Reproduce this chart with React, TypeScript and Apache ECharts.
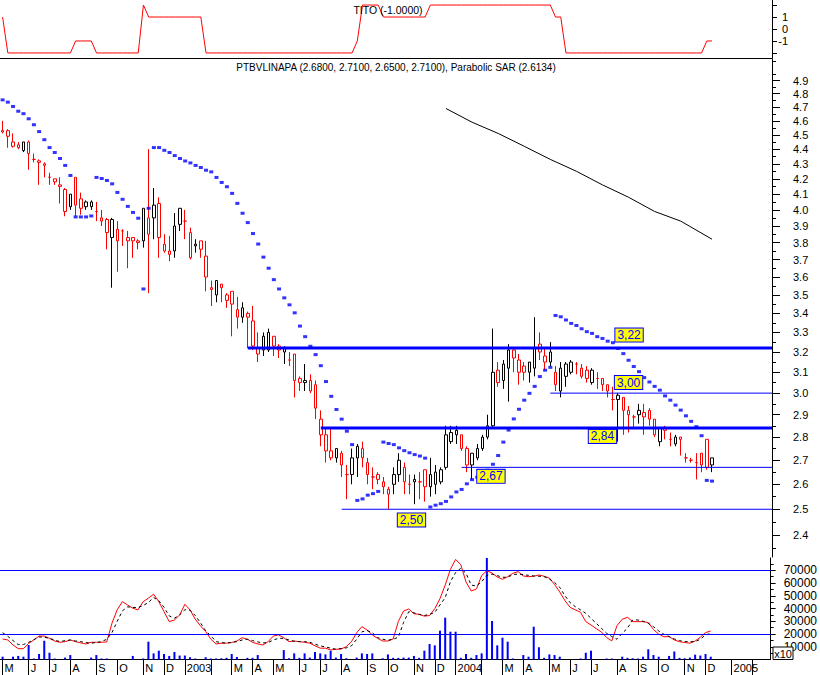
import React, { useEffect, useRef } from "react";
import * as echarts from "echarts";

// ---------------- DATA ----------------
const FIRST_WEEK = "2002-05-03";
const N_WEEKS = 148;
const HOLIDAY_SHIFT: Record<string, string> = { "2002-11-01": "2002-10-31" };

const OPEN = [4.53,4.53,4.45,4.43,4.39,4.45,4.33,4.32,4.29,4.21,
 4.18,4.15,4.13,4.02,4.21,4.07,4.05,4.02,3.99,3.93,
 3.94,3.83,3.81,3.87,3.81,3.83,3.81,3.81,3.85,3.95,
 4.04,3.75,3.75,3.75,3.91,3.93,3.86,3.78,3.81,3.72,
 3.54,3.50,3.56,3.50,3.52,3.42,3.38,3.40,3.36,3.19,
 3.21,3.21,3.23,3.23,3.20,3.16,3.19,3.07,3.05,3.06,
 3.04,2.88,2.81,2.74,2.71,2.73,2.64,2.64,2.71,2.75,
 2.69,2.63,2.64,2.61,2.56,2.60,2.64,2.67,2.60,2.61,
 2.61,2.66,2.59,2.60,2.61,2.67,2.78,2.81,2.81,2.75,
 2.68,2.71,2.75,2.80,2.85,3.11,3.06,3.12,3.21,3.10,
 3.13,3.10,3.12,3.24,3.15,3.15,3.04,3.01,3.08,3.10,
 3.14,3.08,3.11,3.05,3.07,3.07,3.04,2.97,2.97,2.98,
 2.92,2.89,2.90,2.89,2.92,2.88,2.78,2.84,2.79,2.77,
 2.80,2.71,2.70,2.69,2.73,2.79,2.68];
const HIGH = [4.60,4.54,4.51,4.45,4.45,4.46,4.37,4.33,4.31,4.24,
 4.20,4.21,4.14,4.10,4.21,4.11,4.06,4.06,4.05,4.00,
 3.95,3.95,3.93,3.88,3.87,3.83,3.82,4.01,4.40,4.14,
 4.08,3.85,3.84,3.98,4.01,4.00,3.89,3.82,3.81,3.81,
 3.58,3.58,3.56,3.51,3.52,3.49,3.46,3.41,3.44,3.30,
 3.30,3.32,3.28,3.24,3.23,3.20,3.19,3.08,3.14,3.09,
 3.06,2.92,2.84,2.84,2.75,2.74,2.68,2.75,2.77,2.78,
 2.71,2.67,2.65,2.63,2.59,2.67,2.73,2.69,2.64,2.64,
 2.65,2.66,2.71,2.68,2.67,2.85,2.85,2.85,2.81,2.76,
 2.73,2.77,2.81,2.90,3.32,3.15,3.16,3.24,3.22,3.19,
 3.15,3.15,3.38,3.30,3.22,3.25,3.13,3.15,3.15,3.16,
 3.15,3.14,3.13,3.12,3.10,3.07,3.04,3.03,3.00,2.98,
 2.94,2.90,2.95,2.95,2.93,2.88,2.84,2.85,2.82,2.81,
 2.80,2.73,2.71,2.73,2.73,2.79,2.71];
const LOW = [4.51,4.41,4.41,4.40,4.38,4.26,4.31,4.16,4.21,4.16,
 4.16,4.04,3.96,4.00,3.96,3.97,4.00,4.00,3.93,3.90,
 3.76,3.54,3.63,3.78,3.65,3.71,3.76,3.77,3.51,3.82,
 3.71,3.74,3.69,3.71,3.87,3.82,3.70,3.74,3.71,3.52,
 3.44,3.46,3.46,3.43,3.28,3.32,3.35,3.22,3.21,3.15,
 3.18,3.20,3.18,3.17,3.14,3.13,2.98,3.01,3.01,3.00,
 2.88,2.76,2.69,2.70,2.69,2.63,2.54,2.60,2.63,2.67,
 2.60,2.58,2.60,2.56,2.50,2.56,2.61,2.56,2.56,2.52,
 2.54,2.53,2.55,2.56,2.60,2.66,2.77,2.77,2.74,2.65,
 2.62,2.70,2.74,2.79,2.84,3.03,3.02,2.96,3.10,3.04,
 3.06,3.05,3.08,3.16,3.11,3.13,3.01,2.98,3.03,3.09,
 3.09,3.07,3.05,3.04,3.02,3.01,2.98,2.92,2.78,2.81,
 2.82,2.84,2.86,2.81,2.85,2.80,2.76,2.79,2.76,2.76,
 2.72,2.69,2.69,2.62,2.65,2.66,2.65];
const CLOSE = [4.52,4.49,4.42,4.41,4.45,4.37,4.33,4.31,4.30,4.21,
 4.20,4.16,3.99,4.10,4.03,4.01,4.02,4.05,3.99,3.95,
 3.86,3.94,3.88,3.87,3.83,3.81,3.80,4.01,3.95,4.03,
 3.83,3.79,3.73,3.90,4.01,3.93,3.71,3.79,3.76,3.60,
 3.53,3.58,3.54,3.47,3.45,3.38,3.43,3.38,3.23,3.22,
 3.28,3.30,3.28,3.21,3.22,3.16,3.06,3.05,3.06,3.01,
 2.93,2.81,2.74,2.71,2.75,2.68,2.64,2.71,2.76,2.71,
 2.64,2.63,2.62,2.59,2.58,2.64,2.70,2.61,2.60,2.62,
 2.61,2.59,2.64,2.65,2.66,2.81,2.82,2.83,2.75,2.68,
 2.73,2.75,2.80,2.85,3.10,3.05,3.14,3.21,3.17,3.16,
 3.10,3.15,3.22,3.20,3.18,3.20,3.10,3.12,3.14,3.15,
 3.14,3.12,3.07,3.11,3.07,3.04,3.01,2.97,2.99,2.92,
 2.90,2.89,2.92,2.91,2.88,2.81,2.84,2.83,2.79,2.80,
 2.79,2.71,2.70,2.69,2.68,2.67,2.71];

const SAR = [4.754,4.737,4.705,4.670,4.652,4.615,4.572,4.523,4.466,4.411,
 4.377,4.336,4.289,4.222,3.956,3.956,3.956,3.962,4.209,4.202,
 4.189,4.167,4.111,4.067,4.022,3.984,3.948,3.533,4.010,4.411,
 4.411,4.392,4.377,4.356,4.336,4.319,4.306,4.289,4.275,4.257,
 4.246,4.209,4.176,4.148,4.105,4.041,3.979,3.921,3.854,3.791,
 3.714,3.650,3.585,3.533,3.484,3.446,3.403,3.333,3.278,3.229,
 3.187,3.132,3.055,2.985,2.924,2.880,2.826,2.767,2.535,2.541,
 2.556,2.562,2.571,2.778,2.772,2.767,2.753,2.741,2.732,2.724,
 2.718,2.709,2.509,2.516,2.522,2.531,2.549,2.569,2.579,2.602,
 2.619,2.629,2.641,2.658,2.683,2.720,2.778,2.831,2.881,2.925,
 2.967,2.999,3.032,3.079,3.110,3.124,3.389,3.382,3.365,3.347,
 3.336,3.319,3.304,3.295,3.278,3.269,3.255,3.247,3.218,3.192,
 3.159,3.128,3.103,3.074,3.053,3.032,3.014,2.987,2.967,2.944,
 2.921,2.895,2.870,2.846,2.806,2.616,2.613];

const TITO = [1,-2,-2,-2,-2,-2,-2,-2,-2,-2,
 -2,-2,-2,-2,-1,-1,-1,-1,-2,-2,
 -2,-2,-2,-2,-2,-2,-2,2,1,1,
 1,1,1,1,1,1,1,1,1,-2,
 -2,-2,-2,-2,-2,-2,-2,-2,-2,-2,
 -2,-2,-2,-2,-2,-2,-2,-2,-2,-2,
 -2,-2,-2,-2,-2,-2,-2,-2,-1,2,
 2,2,2,1,1,1,1,1,1,1,
 1,1,2,2,2,2,2,2,2,2,
 2,2,2,2,2,2,2,2,2,2,
 2,2,2,2,2,2,1,1,-2,-2,
 -2,-2,-2,-2,-2,-2,-2,-2,-2,-2,
 -2,-2,-2,-2,-2,-2,-2,-2,-2,-2,
 -2,-2,-2,-2,-2,-1,-1];

const VOLUME = [2200,0,2200,2800,2200,11400,800,4300,14700,5300,
 800,0,1500,3500,0,0,0,1500,3500,800,
 800,0,0,0,0,2800,0,800,14000,4800,
 6900,4300,2800,5900,3100,3100,1800,800,0,1800,
 800,800,1000,1300,4300,2000,0,1300,1300,3500,
 0,0,0,0,7400,1000,4800,1300,4800,1500,
 5900,4800,4000,6900,1500,4300,1000,0,1500,4800,
 4300,4800,0,1000,4000,1300,1300,1500,1500,2800,
 1300,6900,12200,11100,22600,32800,21800,21800,1300,4300,
 1300,3500,4800,95000,30200,11100,17100,14000,800,0,
 3500,2200,25700,9600,1300,4000,3500,2200,0,0,
 0,800,5300,6900,0,0,800,800,0,2200,
 1300,1000,800,2200,8000,3500,2200,0,2800,6300,
 1300,1000,1500,3800,3100,4300,2200];

const VOL_FAST = [16100,15300,11400,8500,8500,12600,15300,18400,18400,16600,
 14500,13500,14000,15300,14000,13000,12200,13500,13500,13500,
 13800,28400,38900,45400,42800,40200,38900,45400,48100,51200,
 45400,37500,29700,31000,34900,43300,38900,31600,26400,22000,
 15900,12200,12800,12800,13300,14500,17100,15900,13500,12200,
 11400,14000,18400,19300,17100,14000,14500,14000,13500,12800,
 10700,8900,8900,7500,8000,8200,10100,14000,21000,25800,
 23100,19300,16600,14500,14500,16100,29800,38000,39600,35900,
 35400,34000,34500,39900,47700,58400,70700,78500,74300,60800,
 53700,55300,65800,69700,67800,64700,62900,65000,67600,68900,
 65500,65000,65300,66300,65300,63900,58900,53000,46100,40900,
 38900,37000,29700,27100,24200,21600,17200,14600,26600,31600,
 33100,29700,29700,29700,29000,23500,19900,17800,18000,15300,
 14000,13300,12800,14500,17500,21100,22400];

const VOL_SLOW = [21000,18200,14800,11700,11700,13500,15600,17700,17400,16600,
 15300,14000,14800,15300,14500,14000,13300,12800,13300,14000,
 15900,21100,29800,38100,41300,40800,40800,42300,44700,48700,
 46000,41000,34200,32400,35000,39000,38700,34500,28800,22500,
 18600,14000,13300,12800,13500,14000,15300,15900,14800,13800,
 13000,13300,15300,16600,16600,15300,14300,14000,14000,13500,
 12000,10700,9900,8900,8100,8600,9100,10700,15900,21700,
 22700,21100,17200,15900,15100,15900,17500,29000,37500,36600,
 35400,34500,35400,37000,42800,48500,61000,68200,71600,67600,
 58400,57600,61000,66000,67000,65800,64500,64500,66600,67000,
 66600,66000,65500,65300,65000,63100,60500,56600,50000,44600,
 41400,38900,36200,32300,28400,24500,20600,18000,15900,20600,
 24500,31000,31000,30000,28400,25800,22400,19800,18000,16100,
 14800,14000,14000,14000,15900,19300,20400];

const TREND: [number, number][] = [[85,4.69],[90,4.59],[95,4.51],[100,4.42],[105,4.33],[110,4.25],[115,4.16],[120,4.08],[125,3.99],[130,3.93],[136,3.82]];

const LEVELS = [3.22, 3.0, 2.84, 2.67, 2.5];
const LEVEL_START = [47, 105, 61, 88, 65];

const PRICE_TICKS = [2.4,2.5,2.6,2.7,2.8,2.9,3.0,3.1,3.2,3.3,3.4,3.5,3.6,3.7,3.8,3.9,4.0,4.1,4.2,4.3,4.4,4.5,4.6,4.7,4.8,4.9];
const PRICE_MINOR = [2.35,2.45,2.55,2.65,2.75,2.85,2.95,3.05,3.15,3.25,3.35,3.45,3.55,3.65,3.75,3.85,3.95,4.05,4.15,4.25,4.35,4.45,4.55,4.65,4.75,4.85,4.95,5.05];
const TITO_TICKS = [-2, -1, 0, 1, 2];
const TITO_LABELS = [-1, 0, 1];
const VOL_TICKS = [10000, 20000, 30000, 40000, 50000, 60000, 70000];
const VOL_MINOR = [5000, 15000, 25000, 35000, 45000, 55000, 65000, 75000];
const MONTH_LETTERS = ["J", "F", "M", "A", "M", "J", "J", "A", "S", "O", "N", "D"];

const MAIN_TITLE = "PTBVLINAPA (2.6800, 2.7100, 2.6500, 2.7100), Parabolic SAR (2.6134)";
const TITO_TITLE = "TITO (-1.0000)";

// ---------------- LAYOUT / STYLE ----------------
const FONT = 'Arial, "Liberation Sans", Helvetica, sans-serif';
const LAY = {
  plotW: 772,
  titoTop: 0, titoH: 58, titoRange: 2.42,
  mainTop: 59, mainBottom: 557,
  refPrice: 4.9, refY: 80.6, pxPerLn: 637,
  volTop: 558, volBottom: 659.5, volPxPer10k: 12.75,
};
// label placement for the level annotations: [week, dx, dy]
const LEVEL_LABEL_POS: [number, number, number][] = [[120, 0.5, -13], [120, 0, -10.6], [115, 0, 8.4], [94, -2, 9], [78, 2, 10.7]];
const LEVEL_WIDTH = [3, 1, 3, 1, 1];

function buildWeeks(): string[] {
  const out: string[] = [];
  const start = Date.parse(FIRST_WEEK + "T00:00:00Z");
  for (let i = 0; i < N_WEEKS; i++) {
    let s = new Date(start + i * 7 * 86400000).toISOString().slice(0, 10);
    if (HOLIDAY_SHIFT[s]) s = HOLIDAY_SHIFT[s];
    out.push(s);
  }
  return out;
}

function buildOption() {
  const WEEKS = buildWeeks();
  const monthOf = (i: number) => parseInt(WEEKS[i].slice(5, 7), 10) - 1;
  const isMonthStart = (i: number) => i === 0 || monthOf(i) !== monthOf(i - 1);

  const lnRef = Math.log(LAY.refPrice);
  const mainMax = lnRef + (LAY.refY - LAY.mainTop) / LAY.pxPerLn;
  const mainMin = lnRef - (LAY.mainBottom - LAY.refY) / LAY.pxPerLn;
  const volMax = ((LAY.volBottom - LAY.volTop) / LAY.volPxPer10k) * 10000;

  const candles = OPEN.map((o, i) => {
    const c = CLOSE[i];
    const prev = i > 0 ? CLOSE[i - 1] : o;
    const red = c < prev;
    const col = red ? "#ff0000" : "#000000";
    return {
      value: [Math.log(o), Math.log(c), Math.log(LOW[i]), Math.log(HIGH[i])],
      itemStyle: { color: "#ffffff", color0: col, borderColor: col, borderColor0: col },
    };
  });

  const baseX = (gridIndex: number) => ({
    type: "category",
    gridIndex,
    data: WEEKS,
    boundaryGap: true,
  });

  return {
    animation: false,
    backgroundColor: "#ffffff",
    textStyle: { fontFamily: FONT },
    title: [
      { text: TITO_TITLE, left: 388, top: 4, textAlign: "center", padding: 0,
        textStyle: { fontSize: 10.5, fontWeight: "normal", color: "#000", fontFamily: FONT } },
      { text: MAIN_TITLE, left: 396, top: 62, textAlign: "center", padding: 0,
        textStyle: { fontSize: 10, fontWeight: "normal", color: "#000", fontFamily: FONT } },
    ],
    grid: [
      { left: 0, top: LAY.titoTop, width: LAY.plotW, height: LAY.titoH },
      { left: 0, top: LAY.mainTop, width: LAY.plotW, height: LAY.mainBottom - LAY.mainTop },
      { left: 0, top: LAY.volTop, width: LAY.plotW, height: LAY.volBottom - LAY.volTop },
    ],
    xAxis: [
      { ...baseX(0), position: "bottom", axisLine: { show: true, onZero: false, lineStyle: { color: "#000", width: 1 } }, axisTick: { show: false }, axisLabel: { show: false }, splitLine: { show: false } },
      { ...baseX(1), show: false },
      {
        ...baseX(2),
        position: "bottom",
        axisLine: { show: true, onZero: false, lineStyle: { color: "#000", width: 1 } },
        axisTick: { show: true, alignWithLabel: true, length: 16, interval: (i: number) => isMonthStart(i), lineStyle: { color: "#000" } },
        axisLabel: {
          show: true,
          interval: (i: number) => isMonthStart(i) && monthOf(i) !== 1,
          formatter: (v: string) => { const m = parseInt(v.slice(5, 7), 10) - 1; return m === 0 ? v.slice(0, 4) : MONTH_LETTERS[m]; },
          align: "left", padding: [0, 0, 0, 2], margin: 3,
          color: "#000", fontSize: 11, fontFamily: FONT,
        },
        splitLine: { show: false },
      },
    ],
    yAxis: [
      {
        type: "value", gridIndex: 0, position: "right", min: -LAY.titoRange, max: LAY.titoRange,
        axisLine: { show: true, lineStyle: { color: "#000" } },
        axisTick: { show: true, length: 5, customValues: TITO_TICKS, lineStyle: { color: "#000" } },
        axisLabel: { show: true, customValues: TITO_LABELS, formatter: (v: number) => String(Math.round(v)), align: "right", margin: 16, color: "#000", fontSize: 11, fontFamily: FONT },
        splitLine: { show: false },
      },
      {
        type: "value", gridIndex: 1, position: "right", min: mainMin, max: mainMax, scale: true,
        axisLine: { show: true, lineStyle: { color: "#000" } },
        axisTick: { show: true, length: 8, customValues: PRICE_TICKS.map(Math.log), lineStyle: { color: "#000" } },
        axisLabel: { show: true, customValues: PRICE_TICKS.map(Math.log), formatter: (v: number) => Math.exp(v).toFixed(1), margin: 21, color: "#000", fontSize: 11, fontFamily: FONT },
        splitLine: { show: false },
      },
      {
        type: "value", gridIndex: 2, position: "right", min: 0, max: volMax,
        axisLine: { show: true, lineStyle: { color: "#000" } },
        axisTick: { show: true, length: 5, customValues: VOL_TICKS, lineStyle: { color: "#000" } },
        axisLabel: { show: true, customValues: VOL_TICKS, formatter: (v: number) => String(Math.round(v)), margin: 13, color: "#000", fontSize: 12, fontFamily: FONT },
        splitLine: { show: false },
      },
      {
        type: "value", gridIndex: 1, position: "right", min: mainMin, max: mainMax, scale: true,
        axisLine: { show: false },
        axisTick: { show: true, length: 4, customValues: PRICE_MINOR.map(Math.log), lineStyle: { color: "#000" } },
        axisLabel: { show: false }, splitLine: { show: false },
      },
      {
        type: "value", gridIndex: 2, position: "right", min: 0, max: volMax,
        axisLine: { show: false },
        axisTick: { show: true, length: 3, customValues: VOL_MINOR, lineStyle: { color: "#000" } },
        axisLabel: { show: false }, splitLine: { show: false },
      },
    ],
    series: [
      {
        type: "line", xAxisIndex: 0, yAxisIndex: 0, data: TITO, symbol: "none",
        lineStyle: { color: "#ff0000", width: 1 }, z: 2,
      },
      {
        type: "candlestick", xAxisIndex: 1, yAxisIndex: 1, data: candles, barWidth: 3,
        itemStyle: { borderWidth: 1 }, z: 2,
      },
      {
        type: "scatter", xAxisIndex: 1, yAxisIndex: 1, symbol: "rect", symbolSize: [4, 3],
        itemStyle: { color: "#0000ff" }, data: SAR.map((v, i) => [i, Math.log(v)]), z: 3,
      },
      {
        type: "line", xAxisIndex: 1, yAxisIndex: 1, symbol: "none",
        data: TREND.map(([i, p]) => [i, Math.log(p)]),
        lineStyle: { color: "#000", width: 1 }, z: 3,
      },
      {
        type: "custom", xAxisIndex: 1, yAxisIndex: 1, z: 6,
        data: LEVELS.map((v, k) => [LEVEL_START[k], Math.log(v), k]),
        renderItem: (params: any, api: any) => {
          const k = api.value(2);
          const v = api.value(1);
          const p = api.coord([api.value(0), v]);
          const cs = params.coordSys;
          const right = cs.x + cs.width;
          const [lw, dx, dy] = LEVEL_LABEL_POS[k];
          const lp = api.coord([lw, v]);
          return {
            type: "group",
            children: [
              { type: "line", shape: { x1: p[0], y1: p[1], x2: right, y2: p[1] }, style: { stroke: "#0000ff", lineWidth: LEVEL_WIDTH[k] } },
              {
                type: "text", x: lp[0] + dx, y: lp[1] + dy, z2: 10,
                style: {
                  text: LEVELS[k].toFixed(2).replace(".", ","),
                  fill: "#0000ff", font: `12px ${FONT}`, align: "center", verticalAlign: "middle",
                  backgroundColor: "#ffff00", borderColor: "#0000ff", borderWidth: 1,
                  padding: [0, 2, 0, 2], lineHeight: 13,
                },
              },
            ],
          };
        },
      },
      {
        type: "bar", xAxisIndex: 2, yAxisIndex: 2, data: VOLUME, barWidth: 2,
        itemStyle: { color: "#0000ff" }, z: 2,
        markLine: {
          silent: true, symbol: ["none", "none"], label: { show: false },
          lineStyle: { color: "#0000ff", width: 1, type: "solid" },
          data: [{ yAxis: 70000 }, { yAxis: 20000 }],
        },
      },
      {
        type: "line", xAxisIndex: 2, yAxisIndex: 2, data: VOL_FAST, symbol: "none",
        lineStyle: { color: "#ff0000", width: 1 }, z: 3,
      },
      {
        type: "line", xAxisIndex: 2, yAxisIndex: 2, data: VOL_SLOW, symbol: "none",
        lineStyle: { color: "#000000", width: 1, type: [3, 3] }, z: 3,
      },
    ],
    graphic: [
      { type: "rect", shape: { x: 773, y: 647, width: 20, height: 12.5 }, style: { fill: "#ffffff", stroke: "#000", lineWidth: 1 }, z: 100 },
      { type: "text", x: 783, y: 653.5, style: { text: "x10", font: `11px ${FONT}`, fill: "#000", align: "center", verticalAlign: "middle" }, z: 101 },
    ],
  };
}

export default function App() {
  const ref = useRef<HTMLDivElement>(null);
  useEffect(() => {
    if (!ref.current) return;
    const chart = echarts.init(ref.current, null, { renderer: "svg", width: 820, height: 675 });
    chart.setOption(buildOption() as any);
    return () => chart.dispose();
  }, []);
  return (
    <div
      ref={ref}
      style={{ position: "fixed", left: 0, top: 0, width: 820, height: 675, background: "#fff" }}
    />
  );
}
